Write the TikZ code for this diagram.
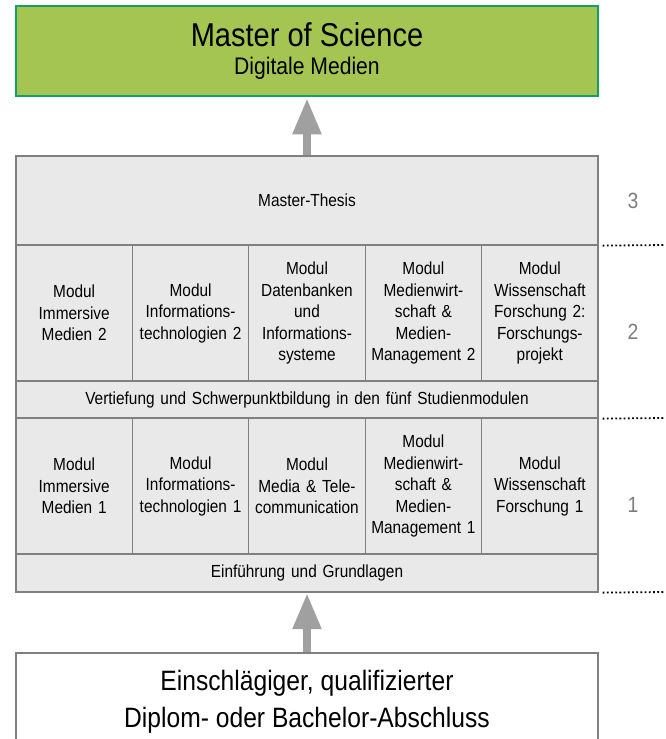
\documentclass[tikz,border=0pt]{standalone}
\usepackage{fontspec}
\setmainfont[FakeStretch=0.88]{Liberation Sans}
\usepackage{tikz}
\usetikzlibrary{arrows.meta, positioning}
\definecolor{msgreen}{RGB}{165,197,82}
\definecolor{msborder}{RGB}{20,160,100}
\definecolor{cellfill}{RGB}{233,233,233}
\definecolor{cellline}{RGB}{128,128,128}
\definecolor{arrowgrey}{RGB}{160,160,160}
\definecolor{yeargrey}{RGB}{125,125,125}
\tikzset{
  cell/.style={draw=cellline, fill=cellfill, line width=1.3pt, inner sep=0pt,
    minimum width=116.4pt, minimum height=136pt, text width=114pt, align=center,
    font=\fontsize{17.5}{21.5}\selectfont},
  bar/.style={cell, minimum width=582pt, text width=570pt},
  bigarrow/.style={draw=arrowgrey, line width=8pt,
    -{Triangle[length=36pt, width=27pt, color=arrowgrey]}},
  yearline/.style={line width=1.8pt, dash pattern=on 1.8pt off 2.4pt, draw=black},
  yearlabel/.style={text=yeargrey, font=\fontsize{22}{24}\selectfont}
}

\begin{document}
\begin{tikzpicture}[x=1pt,y=-1pt]
            \useasboundingbox (0,0) rectangle (665,739);

            \node[draw=msborder, fill=msgreen, line width=1.5pt, minimum width=582pt, minimum height=90pt, align=center,
                font=\fontsize{24}{28}\selectfont] (master) at (307,51)
                {{\fontsize{33}{28}\selectfont Master of Science}\\Digitale Medien};

            \node[bar, minimum height=89pt] (thesis) at (307,200.5) {Master-Thesis};

            \node[cell] (im2) at (74.2,313) {Modul\\Immersive\\Medien 2};
            \node[cell] (it2) at (190.6,313) {Modul\\Informations-\\technologien 2};
            \node[cell] (db2) at (307,313) {Modul\\Datenbanken\\und\\Informations-\\systeme};
            \node[cell] (mm2) at (423.4,313) {Modul\\Medienwirt-\\schaft \&\\Medien-\\Management 2};
            \node[cell] (wf2) at (539.8,313) {Modul\\Wissenschaft\\Forschung 2:\\Forschungs-\\projekt};

            \node[bar, minimum height=37pt] (deep) at (307,399.5) {Vertiefung und Schwerpunktbildung in den fünf Studienmodulen};

            \node[cell] (im1) at (74.2,486) {Modul\\Immersive\\Medien 1};
            \node[cell] (it1) at (190.6,486) {Modul\\Informations-\\technologien 1};
            \node[cell] (mt1) at (307,486) {Modul\\Media \& Tele-\\communication};
            \node[cell] (mm1) at (423.4,486) {Modul\\Medienwirt-\\schaft \&\\Medien-\\Management 1};
            \node[cell] (wf1) at (539.8,486) {Modul\\Wissenschaft\\Forschung 1};

            \node[bar, minimum height=38pt] (intro) at (307,573) {Einführung und Grundlagen};

            \node[draw=cellline, fill=white, line width=1.3pt, minimum width=582pt, minimum height=98pt, align=center,
                font=\fontsize{28}{37}\selectfont] (bachelor) at (307,702)
                {Einschlägiger, qualifizierter\\Diplom- oder Bachelor-Abschluss};

            \node[yearlabel] (y3) at (633,201) {3};
            \node[yearlabel] (y2) at (633,332) {2};
            \node[yearlabel] (y1) at (633,505) {1};

            \coordinate (e3) at (665,245);
            \coordinate (e2) at (665,418);
            \coordinate (e1) at (665,592);
            \draw[yearline, shorten <=4pt] (thesis.south east) -- (e3);
            \draw[yearline, shorten <=4pt] (deep.south east) -- (e2);
            \draw[yearline, shorten <=4pt] (intro.south east) -- (e1);

            \draw[bigarrow, shorten >=1.5pt] (thesis.north) -- (master.south);
            \draw[bigarrow, shorten >=0.5pt] (bachelor.north) -- (intro.south);

            \end{tikzpicture}
\end{document}
